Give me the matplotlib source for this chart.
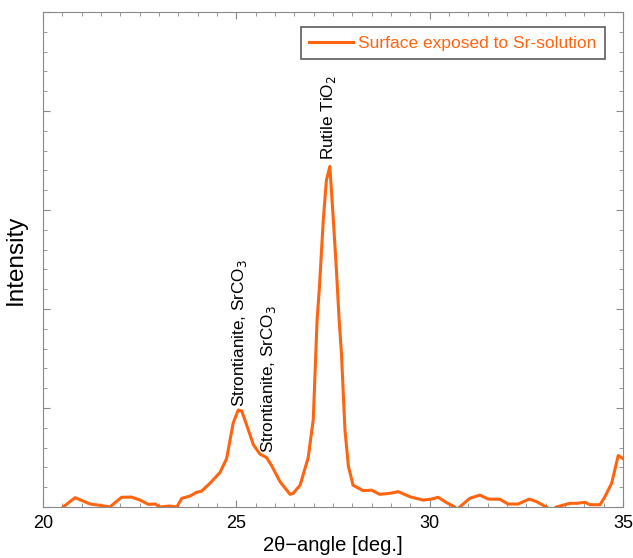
import matplotlib
matplotlib.use("Agg")
import matplotlib.pyplot as plt
from matplotlib.ticker import MultipleLocator, NullFormatter

plt.rcParams['font.family'] = ['Liberation Sans', 'DejaVu Sans']

two_theta = [20.3, 20.52, 20.83, 21.22, 21.47, 21.73, 22.03, 22.29, 22.51, 22.72, 22.90,
             23.03, 23.28, 23.46, 23.59, 23.80, 23.97, 24.10, 24.32, 24.58, 24.75, 24.92,
             25.05, 25.14, 25.31, 25.44, 25.61, 25.78, 25.91, 26.13, 26.39, 26.47, 26.65,
             26.86, 26.99, 27.09, 27.15, 27.25, 27.33, 27.42, 27.51, 27.59, 27.66, 27.72,
             27.81, 27.90, 28.02, 28.28, 28.50, 28.71, 28.97, 29.19, 29.49, 29.83, 30.05,
             30.22, 30.44, 30.65, 30.72, 30.78, 31.04, 31.30, 31.52, 31.82, 32.03, 32.29,
             32.58, 32.77, 33.02, 33.15, 33.28, 33.63, 33.80, 34.02, 34.15, 34.41, 34.53,
             34.71, 34.88, 35.0]
intensity = [-0.10, 0.0, 0.094, 0.03, 0.017, 0.0, 0.098, 0.10, 0.07, 0.027, 0.03,
             0.0, 0.01, 0.0, 0.088, 0.11, 0.148, 0.16, 0.24, 0.35, 0.49, 0.85,
             0.98, 0.97, 0.78, 0.63, 0.535, 0.50, 0.42, 0.256, 0.128, 0.138, 0.22,
             0.50, 0.88, 1.89, 2.22, 2.90, 3.30, 3.44, 2.90, 2.39, 1.89, 1.55,
             0.78, 0.41, 0.22, 0.165, 0.17, 0.128, 0.138, 0.155, 0.104, 0.07, 0.08,
             0.098, 0.044, 0.0, -0.04, 0.0, 0.088, 0.12, 0.08, 0.078, 0.03, 0.03,
             0.08, 0.054, 0.0, -0.04, 0.0, 0.037, 0.037, 0.047, 0.023, 0.023, 0.10,
             0.24, 0.52, 0.49]

series_label = "Surface exposed to Sr-solution"
annotations = [
    (25.07, 1.01, "Strontianite, SrCO$_3$"),
    (25.83, 0.545, "Strontianite, SrCO$_3$"),
    (27.38, 3.5, "Rutile TiO$_2$"),
]
x_ticks = [20, 25, 30, 35]

color = '#ff6410'
fig = plt.figure(figsize=(6.33, 5.58), dpi=100)
ax = fig.add_axes([0.068, 0.0914, 0.916, 0.8871])
ax.plot(two_theta, intensity, color=color, lw=2.2, label=series_label)
ax.set_xlim(20, 35)
ax.set_ylim(0, 5)
ax.set_xticks(x_ticks)
ax.xaxis.set_minor_locator(MultipleLocator(0.5))
ax.yaxis.set_major_locator(MultipleLocator(1))
ax.yaxis.set_minor_locator(MultipleLocator(0.2))
ax.yaxis.set_major_formatter(NullFormatter())
ax.tick_params(which='both', direction='in', top=True, right=True, color='#888888', labelsize=13)
ax.tick_params(axis='x', which='major', pad=6)
ax.tick_params(which='major', length=5)
ax.tick_params(which='minor', length=3)
for s in ax.spines.values():
    s.set_color('#888888')
ax.set_xlabel('2θ−angle [deg.]', fontsize=14.5, labelpad=3)
ax.set_ylabel('Intensity', fontsize=17.5, labelpad=8)

for x, y, t in annotations:
    ax.text(x, y, t, rotation=90, ha='center', va='bottom', fontsize=12.3)

leg = ax.legend(loc='upper right', bbox_to_anchor=(0.969, 0.970), borderaxespad=0,
                fontsize=12.5, frameon=True, fancybox=False, handlelength=2.5,
                handletextpad=0.3, borderpad=0.5, labelcolor=color)
leg.get_frame().set_edgecolor('#333333')
leg.get_frame().set_linewidth(1.2)

fig.savefig('out.png', dpi=100)
